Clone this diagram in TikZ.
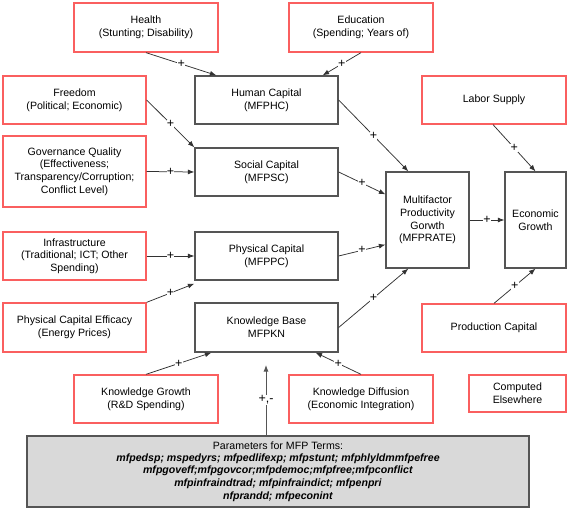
\documentclass[tikz,border=0pt]{standalone}
\usepackage{fontspec}
\setmainfont{Liberation Sans}
\usetikzlibrary{arrows.meta}
\definecolor{exoRed}{RGB}{250,95,95}
\definecolor{intGray}{RGB}{85,85,85}
\definecolor{lineGray}{RGB}{50,50,50}
\definecolor{parFill}{RGB}{217,217,217}
\tikzset{
  base/.style={draw, align=center, inner sep=1pt, font=\fontsize{10.6}{12.7}\selectfont},
  redbox/.style={base, draw=exoRed, line width=1.3pt},
  graybox/.style={base, draw=intGray, line width=1.3pt},
  parbox/.style={base, draw=intGray, line width=1.3pt, fill=parFill},
  conn/.style={-{Latex[length=6.5pt,width=5pt]}, line width=0.75pt, lineGray},
  plus/.style={fill=white, inner sep=0.3pt, text=black, font=\fontsize{12.5}{13}\selectfont}
}
\begin{document}
\begin{tikzpicture}[x=1pt,y=-1pt]
\useasboundingbox (0,0) rectangle (570,510);
% exogenous (red) boxes
\node[redbox, minimum width=144pt, minimum height=49pt] (health) at (146,27.5) {Health\\(Stunting; Disability)};
\node[redbox, minimum width=144pt, minimum height=49pt] (edu) at (361,27.5) {Education\\(Spending; Years of)};
\node[redbox, minimum width=143pt, minimum height=48pt] (free) at (74.5,100) {Freedom\\(Political; Economic)};
\node[redbox, minimum width=143pt, minimum height=71pt] (gov) at (74.5,171.5) {Governance Quality\\(Effectiveness;\\Transparency/Corruption;\\Conflict Level)};
\node[redbox, minimum width=143pt, minimum height=48pt] (infra) at (74.5,256) {Infrastructure\\(Traditional; ICT; Other\\Spending)};
\node[redbox, minimum width=143pt, minimum height=49pt] (pce) at (74.5,327.5) {Physical Capital Efficacy\\(Energy Prices)};
\node[redbox, minimum width=144pt, minimum height=48pt] (kg) at (146,399) {Knowledge Growth\\(R\&D Spending)};
\node[redbox, minimum width=144pt, minimum height=48pt] (kd) at (361,399) {Knowledge Diffusion\\(Economic Integration)};
\node[redbox, minimum width=97pt, minimum height=37pt] (comp) at (517.5,393.5) {Computed\\Elsewhere};
\node[redbox, minimum width=144pt, minimum height=48pt] (labor) at (494,100) {Labor Supply};
\node[redbox, minimum width=144pt, minimum height=48pt] (prod) at (494,328) {Production Capital};
% internal (gray) boxes
\node[graybox, minimum width=143pt, minimum height=48pt] (hc) at (266.5,100) {Human Capital\\(MFPHC)};
\node[graybox, minimum width=143pt, minimum height=48pt] (sc) at (266.5,172) {Social Capital\\(MFPSC)};
\node[graybox, minimum width=143pt, minimum height=48pt] (pc) at (266.5,256) {Physical Capital\\(MFPPC)};
\node[graybox, minimum width=143pt, minimum height=49pt] (kb) at (266.5,327.5) {Knowledge Base\\MFPKN};
\node[graybox, minimum width=83pt, minimum height=96pt] (mfp) at (427.5,220) {Multifactor\\Productivity\\Gorwth\\(MFPRATE)};
\node[graybox, minimum width=61pt, minimum height=96pt] (eg) at (535.5,220) {Economic\\Growth};
\node[parbox, minimum width=502pt, minimum height=71pt] (par) at (278,471.5) {Parameters for MFP Terms:\\[-0.5pt]
\textbf{\textit{mfpedsp; mspedyrs; mfpedlifexp; mfpstunt; mfphlyldmmfpefree}}\\
\textbf{\textit{mfpgoveff;mfpgovcor;mfpdemoc;mfpfree;mfpconflict}}\\
\textbf{\textit{mfpinfraindtrad; mfpinfraindict; mfpenpri}}\\
\textbf{\textit{nfprandd; mfpeconint}}};
\coordinate (kbin) at (266,365);
% connectors
\draw[conn] (health.south) -- node[plus]{+} ([xshift=22pt]hc.north west);
\draw[conn] (edu.south) -- node[plus]{+} ([xshift=-16pt]hc.north east);
\draw[conn] (free.east) -- node[plus]{+} (sc.north west);
\draw[conn] (gov.east) -- node[plus]{+} (sc.west);
\draw[conn] (hc.east) -- node[plus]{+} ([xshift=23pt]mfp.north west);
\draw[conn] (sc.east) -- node[plus]{+} ([yshift=-23pt]mfp.north west);
\draw[conn] (infra.east) -- node[plus]{+} (pc.west);
\draw[conn] (pce.north east) -- node[plus]{+} ([yshift=-3pt]pc.south west);
\draw[conn] (pc.east) -- node[plus]{+} ([yshift=24pt]mfp.south west);
\draw[conn] (kb.east) -- node[plus]{+} ([xshift=23pt]mfp.south west);
\draw[conn] (mfp.east) -- node[plus]{+} (eg.west);
\draw[conn] ([xshift=-1pt]labor.south) -- node[plus]{+} (eg.north);
\draw[conn] (prod.north) -- node[plus]{+} (eg.south);
\draw[conn] (kg.north) -- node[plus]{+} ([xshift=17pt]kb.south west);
\draw[conn] (kd.north) -- node[plus]{+} ([xshift=-23pt]kb.south east);
\draw[conn, line width=0.9pt, intGray] ([xshift=-12pt]par.north) -- node[plus]{+,-} (kbin);
\end{tikzpicture}
\end{document}
